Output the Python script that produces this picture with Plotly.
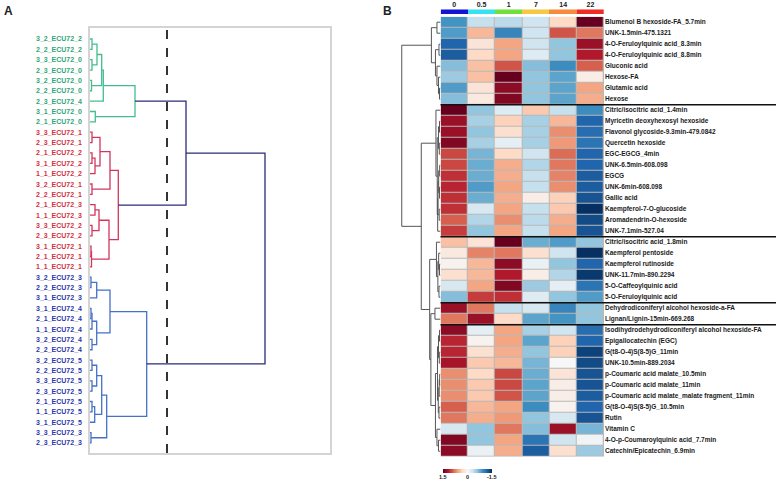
import plotly.graph_objects as go

W, H = 778, 481

# ---------------- Panel A data ----------------
sample_labels = [
    "3_2_ECU72_2", "2_2_ECU72_2", "3_3_ECU72_0", "2_3_ECU72_0", "3_2_ECU72_0", "2_2_ECU72_0",
    "2_3_ECU72_4", "3_1_ECU72_0", "2_1_ECU72_0",
    "3_3_ECU72_1", "2_3_ECU72_1", "2_1_ECU72_2", "3_1_ECU72_2", "1_1_ECU72_2", "3_2_ECU72_1",
    "2_2_ECU72_1", "2_1_ECU72_3", "1_1_ECU72_3", "3_3_ECU72_2", "2_3_ECU72_2", "3_1_ECU72_1",
    "2_1_ECU72_1", "1_1_ECU72_1",
    "3_2_ECU72_3", "2_2_ECU72_3", "3_1_ECU72_3", "3_1_ECU72_4", "2_1_ECU72_4", "1_1_ECU72_4",
    "3_2_ECU72_4", "2_2_ECU72_4", "3_2_ECU72_5", "2_2_ECU72_5", "3_3_ECU72_5", "2_3_ECU72_5",
    "2_1_ECU72_5", "1_1_ECU72_5", "3_1_ECU72_5", "3_3_ECU72_3", "2_3_ECU72_3",
]
sample_cluster = ["g"] * 9 + ["r"] * 14 + ["b"] * 17
# linkage: (child_a, child_b, height); ids >= n refer to earlier merges
sample_linkage = [
    (0, 1, 2), (2, 3, 2), (40, 41, 7), (4, 5, 1.5), (42, 43, 11.7), (44, 6, 13.3),
    (7, 8, 5.3), (45, 46, 45),
    (9, 10, 2), (11, 12, 2), (49, 13, 5), (48, 50, 10), (14, 15, 2), (51, 52, 20),
    (16, 17, 5), (18, 19, 2), (54, 55, 9), (20, 21, 1), (57, 22, 1.5), (56, 58, 19),
    (53, 59, 28.3),
    (23, 24, 1), (61, 25, 6.7), (26, 27, 1), (63, 28, 2), (29, 30, 2), (64, 65, 6.7),
    (62, 66, 20), (31, 32, 2), (33, 34, 2), (68, 69, 6.7), (35, 36, 2), (71, 37, 4.7),
    (70, 72, 11.7), (38, 39, 1), (73, 74, 16.7), (67, 75, 56.7),
    (47, 60, 96), (77, 76, 175),
]
cut_height = 77
sample_height_max = 240

# ---------------- Panel B data ----------------
time_points = ["0", "0.5", "1", "7", "14", "22"]
metabolites = [
    "Blumenol B hexoside-FA_5.7min", "UNK-1.5min-475.1321", "4-O-Feruloylquinic acid_8.3min",
    "4-O-Feruloylquinic acid_8.8min", "Gluconic acid", "Hexose-FA", "Glutamic acid", "Hexose",
    "Citric/isocitric acid_1.4min", "Myricetin deoxyhexosyl hexoside",
    "Flavonol glycoside-9.3min-479.0842", "Quercetin hexoside", "EGC-EGCG_4min",
    "UNK-6.5min-608.098", "EGCG", "UNK-6min-608.098", "Gallic acid",
    "Kaempferol-7-O-glucoside", "Aromadendrin-O-hexoside", "UNK-7.1min-527.04",
    "Citric/isocitric acid_1.8min", "Kaempferol pentoside", "Kaempferol rutinoside",
    "UNK-11.7min-890.2294", "5-O-Caffeoylquinic acid", "5-O-Feruloylquinic acid",
    "Dehydrodiconiferyl alcohol hexoside-a-FA", "Lignan/Lignin-15min-669.268",
    "Isodihydrodehydrodiconiferyl alcohol hexoside-FA", "Epigallocatechin (EGC)",
    "G(t8-O-4)S(8-5)G_11min", "UNK-10.5min-889.2034", "p-Coumaric acid malate_10.5min",
    "p-Coumaric acid malate_11min", "p-Coumaric acid malate_malate fragment_11min",
    "G(t8-O-4)S(8-5)G_10.5min", "Rutin", "Vitamin C", "4-O-p-Coumaroylquinic acid_7.7min",
    "Catechin/Epicatechin_6.9min",
]
zscores = [
    [-0.9, -0.35, -0.4, -0.3, 0.3, 1.7],
    [-0.85, 0.5, -1.0, -0.3, 0.95, 0.8],
    [-1.2, 0.2, 0.6, -0.3, -0.6, 1.3],
    [-1.25, 0.3, 0.6, -0.2, -0.6, 1.2],
    [-0.65, 0.45, 0.95, -0.65, -0.95, 0.9],
    [-0.55, 0.45, 1.6, -0.6, -0.8, 0.1],
    [-0.85, 0.2, 1.35, -0.6, -0.8, 0.6],
    [-0.65, 0.15, 1.4, -0.6, -0.8, 0.55],
    [1.65, -0.6, -0.2, 0.4, -0.35, -0.95],
    [1.3, -0.5, 0.35, -0.5, 0.5, -1.2],
    [1.3, -0.6, 0.25, -0.5, 0.7, -1.15],
    [1.4, -0.5, -0.15, -0.5, 0.65, -1.1],
    [1.0, -0.7, 0.3, -0.3, 0.85, -1.2],
    [1.0, -0.75, 0.55, -0.45, 0.8, -1.2],
    [1.1, -0.75, 0.55, -0.35, 0.75, -1.25],
    [1.15, -0.85, 0.6, -0.35, 0.7, -1.25],
    [1.1, -0.75, 0.55, 0.1, 0.35, -1.3],
    [1.1, -0.25, 0.6, -0.35, 0.4, -1.5],
    [0.9, -0.45, 0.7, -0.4, 0.55, -1.35],
    [1.05, -0.6, 0.6, -0.35, 0.6, -1.3],
    [0.45, 0.2, 1.6, -0.75, -0.85, -0.6],
    [0.15, 0.75, 0.8, 0.25, -0.3, -1.6],
    [0.05, 0.5, 1.35, -0.1, -0.6, -1.2],
    [0.25, 0.5, 1.2, 0.1, -0.45, -1.45],
    [-0.25, 0.6, 1.4, -0.55, -0.15, -1.1],
    [-0.65, 1.05, 1.1, -0.2, -0.6, -0.85],
    [1.3, 0.8, -0.35, -0.25, -1.0, -0.6],
    [0.8, 1.3, 0.3, -0.8, -0.9, -0.6],
    [1.35, -0.15, 0.6, -0.5, -0.3, -1.15],
    [1.15, 0.05, 0.6, -0.8, 0.35, -1.2],
    [1.15, 0.25, 0.55, -0.6, 0.35, -1.4],
    [1.25, 0.4, 0.5, -0.7, 0.0, -1.35],
    [0.7, 0.3, 1.0, -0.75, 0.2, -1.3],
    [0.7, 0.4, 1.0, -0.8, 0.1, -1.3],
    [0.7, 0.4, 0.95, -0.8, 0.1, -1.25],
    [0.9, 0.5, 0.6, -0.95, 0.05, -1.2],
    [0.8, 0.55, 0.65, -0.6, -0.25, -1.3],
    [-0.25, -0.6, 0.8, -0.65, 1.3, -0.7],
    [1.4, -0.6, 0.6, -1.1, -0.3, -0.05],
    [1.35, -0.1, 0.55, -1.25, 0.25, -0.55],
]
group_sizes = [8, 12, 6, 2, 12]
row_linkage = [
    (0, 1, 3.5), (2, 3, 1.5), (6, 7, 1), (5, 42, 2), (4, 43, 3.5), (41, 44, 5), (40, 45, 9),
    (9, 10, 1), (11, 12, 1.2), (13, 14, 0.8), (15, 16, 1), (17, 18, 1.3), (47, 48, 2),
    (49, 50, 1.8), (53, 51, 2.5), (54, 19, 2.8), (52, 55, 3.2), (8, 56, 4.5),
    (22, 23, 1), (21, 58, 1.8), (24, 25, 1.5), (59, 60, 2.6), (20, 61, 4),
    (26, 27, 5.5),
    (28, 29, 1), (30, 31, 1.2), (64, 65, 2), (32, 33, 0.8), (67, 34, 1.3), (35, 36, 1.5),
    (68, 69, 2.2), (66, 70, 3), (38, 39, 2), (37, 72, 3.5), (71, 73, 5),
    (63, 74, 9.5), (62, 75, 10.7), (57, 76, 19), (46, 77, 38.3),
]
row_height_max = 44
time_colors = ["#1414d6", "#36e2ef", "#72df3c", "#f6c843", "#f68b3d", "#ee2b25"]
scale_ticks = [1.5, 0, -1.5]
scale_labels = ["1.5", "0", "-1.5"]

RDBU = ["#053061", "#2166ac", "#4393c3", "#92c5de", "#d1e5f0", "#f7f7f7",
        "#fddbc7", "#f4a582", "#d6604d", "#b2182b", "#67001f"]
colorscale = [[i / 10, c] for i, c in enumerate(RDBU)]

cluster_line = {"g": "#43bd90", "r": "#d2365e", "b": "#4571c6"}
cluster_text = {"g": "#2fa676", "r": "#d3303f", "b": "#2a37aa"}
navy = "#2b2b7a"


def px_x(p):
    return p / W


def px_y(p):
    return 1 - p / H


def links(n, linkage):
    pos = {i: float(i) for i in range(n)}
    hgt = {i: 0.0 for i in range(n)}
    first = {i: i for i in range(n)}
    out = []
    for k, (a, b, h) in enumerate(linkage):
        node = n + k
        out.append(([hgt[a], h, h, hgt[b]], [pos[a], pos[a], pos[b], pos[b]], h, first[a]))
        pos[node] = (pos[a] + pos[b]) / 2
        hgt[node] = h
        first[node] = first[a]
    return out


fig = go.Figure()

# ---- Panel A dendrogram ----
nA = len(sample_labels)
groups = {}
for xs, ys, h, leaf in links(nA, sample_linkage):
    col = cluster_line[sample_cluster[leaf]] if h < cut_height else navy
    gx, gy = groups.setdefault(col, ([], []))
    gx += xs + [None]
    gy += ys + [None]
for col, (gx, gy) in groups.items():
    fig.add_trace(go.Scatter(x=gx, y=gy, mode="lines", line=dict(color=col, width=1.3),
                             xaxis="x", yaxis="y", showlegend=False, hoverinfo="skip"))

for i, lab in enumerate(sample_labels):
    fig.add_annotation(x=px_x(84), xref="paper", y=i, yref="y", text=lab, showarrow=False,
                       xanchor="right", yanchor="middle",
                       font=dict(family="Liberation Sans", size=7, color=cluster_text[sample_cluster[i]],
                                 weight="bold"))

fig.add_shape(type="line", xref="x", yref="y domain", x0=cut_height, x1=cut_height, y0=0, y1=1,
              line=dict(color="#333333", width=2, dash="dash"))

# ---- Panel B heatmap ----
nR = len(metabolites)
fig.add_shape(type="rect", xref="x2", yref="y2", x0=-0.5, x1=len(time_points) - 0.5,
              y0=-0.5, y1=nR - 0.5, fillcolor="#b9b9b9", line=dict(width=0), layer="below")
fig.add_trace(go.Heatmap(z=zscores, x=list(range(len(time_points))), y=list(range(nR)),
                         colorscale=colorscale, zmin=-1.5, zmax=1.5, showscale=False,
                         xgap=1, ygap=1, xaxis="x2", yaxis="y2",
                         customdata=[[m] * len(time_points) for m in metabolites],
                         hovertemplate="%{customdata}<br>day %{x}: %{z}<extra></extra>"))

# group separators
edge = 0
for s in group_sizes[:-1]:
    edge += s
    fig.add_shape(type="line", xref="paper", yref="y2", x0=px_x(440.5), x1=px_x(776),
                  y0=edge - 0.5, y1=edge - 0.5, line=dict(color="#111111", width=1.5))

# row dendrogram
rx, ry = [], []
for xs, ys, h, leaf in links(nR, row_linkage):
    rx += xs + [None]
    ry += ys + [None]
fig.add_trace(go.Scatter(x=rx, y=ry, mode="lines", line=dict(color="#555555", width=1),
                         xaxis="x5", yaxis="y2", showlegend=False, hoverinfo="skip"))

# time colour bar on top
fig.add_trace(go.Heatmap(z=[list(range(len(time_points)))], x=list(range(len(time_points))),
                         colorscale=[[i / (len(time_colors) - 1), c] for i, c in enumerate(time_colors)],
                         showscale=False, xaxis="x4", yaxis="y4", hoverinfo="skip"))

# scale bar
sb = [round(-1.5 + 0.05 * i, 2) for i in range(61)]
fig.add_trace(go.Heatmap(z=[sb], x=sb, colorscale=colorscale, zmin=-1.5, zmax=1.5,
                         showscale=False, xaxis="x3", yaxis="y3", hoverinfo="skip"))
for v, t in zip(scale_ticks, scale_labels):
    fig.add_annotation(x=v, xref="x3", y=px_y(477), yref="paper", text=t, showarrow=False,
                       xanchor="center", yanchor="middle",
                       font=dict(family="Liberation Sans", size=5.5, color="#1a1a1a", weight="bold"))

fig.add_annotation(x=px_x(2), y=px_y(2), xref="paper", yref="paper", text="A", showarrow=False,
                   xanchor="left", yanchor="top", font=dict(family="Liberation Sans", size=12,
                                                           color="#222", weight="bold"))
fig.add_annotation(x=px_x(381), y=px_y(2), xref="paper", yref="paper", text="B", showarrow=False,
                   xanchor="left", yanchor="top", font=dict(family="Liberation Sans", size=12,
                                                           color="#222", weight="bold"))

hidden = dict(showgrid=False, zeroline=False, showticklabels=False, ticks="", showline=False)
fig.update_layout(
    width=W, height=H, margin=dict(l=0, r=0, t=0, b=0),
    paper_bgcolor="white", plot_bgcolor="white", showlegend=False,
    xaxis=dict(domain=[px_x(90), px_x(330)], range=[0, sample_height_max], anchor="y",
               showgrid=False, zeroline=False, showticklabels=False, ticks="",
               showline=True, mirror=True, linecolor="#d4d4d4", linewidth=1.5),
    yaxis=dict(domain=[px_y(453), px_y(28)], range=[nA - 0.03, -1.06], anchor="x",
               showgrid=False, zeroline=False, showticklabels=False, ticks="",
               showline=True, mirror=True, linecolor="#d4d4d4", linewidth=1.5),
    xaxis2=dict(domain=[px_x(440.7), px_x(604)], range=[-0.5, len(time_points) - 0.5],
                anchor="y2", **hidden),
    yaxis2=dict(domain=[px_y(456.7), px_y(16.7)], range=[nR - 0.5, -0.5], anchor="x2",
                side="right", showgrid=False, zeroline=False, ticks="", showline=False,
                tickmode="array", tickvals=list(range(nR)), ticktext=metabolites,
                tickfont=dict(family="Liberation Sans", size=6.5, color="#1a1a1a", weight="bold")),
    xaxis5=dict(domain=[px_x(396), px_x(440.5)], range=[row_height_max, 0], anchor="y2", **hidden),
    xaxis4=dict(domain=[px_x(440.7), px_x(604)], range=[-0.5, len(time_points) - 0.5],
                anchor="y4", side="top", showgrid=False, zeroline=False, ticks="", showline=False,
                tickmode="array", tickvals=list(range(len(time_points))), ticktext=time_points,
                tickfont=dict(family="Liberation Sans", size=7, color="#1a1a1a", weight="bold")),
    yaxis4=dict(domain=[px_y(14), px_y(9.3)], range=[-0.5, 0.5], anchor="x4", **hidden),
    xaxis3=dict(domain=[px_x(443), px_x(492)], range=[1.525, -1.525], anchor="y3", **hidden),
    yaxis3=dict(domain=[px_y(473), px_y(469)], range=[-0.5, 0.5], anchor="x3", **hidden),
)

fig.write_html("out.html", config={"displayModeBar": False},
               post_script="document.body.style.margin='0px';"
                           "document.body.style.overflow='hidden';")
